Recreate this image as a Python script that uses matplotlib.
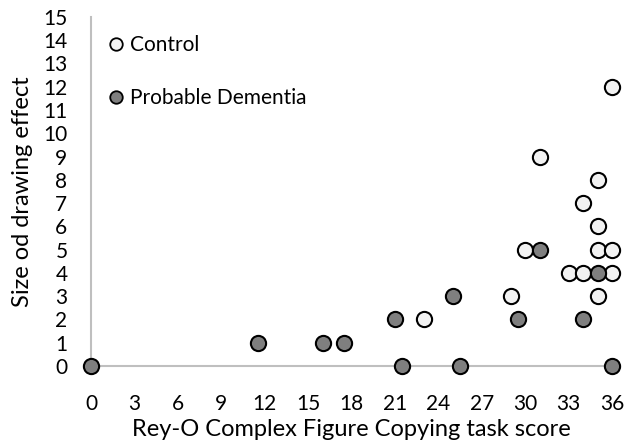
import matplotlib
matplotlib.use("Agg")
import matplotlib.pyplot as plt
from matplotlib.lines import Line2D

plt.rcParams['font.family'] = ['Lato', 'DejaVu Sans']

# Control group
control_x = [36, 31, 35, 34, 35, 30, 35, 36, 33, 34, 36, 29, 35, 23]
control_y = [12, 9, 8, 7, 6, 5, 5, 5, 4, 4, 4, 3, 3, 2]

# Probable dementia group
dementia_x = [0, 11.5, 16, 17.5, 21, 21.5, 25, 25.5, 29.5, 31, 34, 35, 36]
dementia_y = [0, 1, 1, 1, 2, 0, 3, 0, 2, 5, 2, 4, 0]

x_ticks = list(range(0, 37, 3))
y_ticks = list(range(0, 16))

fig = plt.figure(figsize=(6.24, 4.45), dpi=100)
ax = fig.add_axes([0.146, 0.1775, 0.835, 0.7845])

ax.scatter(control_x, control_y, s=120, facecolor="#F2F2F2", edgecolor="black",
           linewidth=1.5, clip_on=False, zorder=3)
ax.scatter(dementia_x, dementia_y, s=120, facecolor="#7F7F7F", edgecolor="black",
           linewidth=1.5, clip_on=False, zorder=3)

ax.set_xlim(0, 36)
ax.set_ylim(0, 15)
ax.set_xticks(x_ticks)
ax.set_yticks(y_ticks)
ax.tick_params(length=0, labelsize=15)
ax.tick_params(axis="x", pad=20)
ax.tick_params(axis="y", pad=17)

for s in ["top", "right"]:
    ax.spines[s].set_visible(False)
for s in ["left", "bottom"]:
    ax.spines[s].set_color("#BFBFBF")
    ax.spines[s].set_linewidth(1.5)

ax.set_xlabel("Rey-O Complex Figure Copying task score", fontsize=17, labelpad=4)
ax.set_ylabel("Size od drawing effect", fontsize=17)
ax.yaxis.set_label_coords(-0.112, 0.5)

handles = [
    Line2D([], [], marker="o", linestyle="none", markersize=9, markerfacecolor="#F2F2F2",
           markeredgecolor="black", markeredgewidth=1.3, label="Control"),
    Line2D([], [], marker="o", linestyle="none", markersize=9, markerfacecolor="#7F7F7F",
           markeredgecolor="black", markeredgewidth=1.3, label="Probable Dementia"),
]
ax.legend(handles=handles, loc="upper left", bbox_to_anchor=(0.0, 0.99), frameon=False,
          fontsize=15, labelspacing=1.6, handletextpad=0.15, handlelength=1.0,
          borderaxespad=0.3)

fig.savefig("out.png", dpi=100)
